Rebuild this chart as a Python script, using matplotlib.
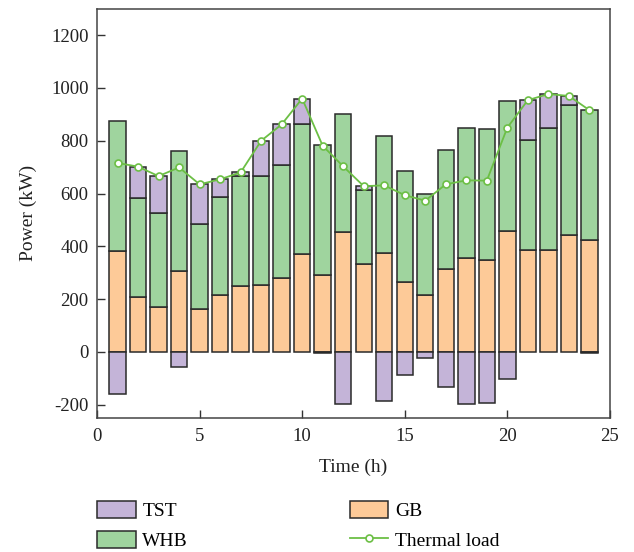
import matplotlib
matplotlib.use("Agg")
import matplotlib.pyplot as plt
import numpy as np

plt.rcParams['font.family'] = ['Liberation Serif', 'DejaVu Serif']
plt.rcParams['axes.unicode_minus'] = False

hours = list(range(1, 25))
gb = [381, 207, 170, 307, 164, 217, 249, 255, 281, 372, 291, 453,
      334, 375, 265, 217, 314, 356, 348, 459, 386, 385, 443, 425]
whb = [494, 375, 356, 454, 320, 371, 419, 410, 428, 493, 492, 449,
       279, 443, 420, 380, 452, 493, 495, 492, 416, 462, 492, 493]
tst = [-160, 119, 140, -58, 151, 66, 12, 135, 153, 95, -3, -198,
       15, -185, -88, -24, -132, -198, -194, -101, 152, 130, 35, -3]
thermal_load = [716, 702, 666, 699, 635, 654, 680, 800, 862, 960, 781, 703,
                628, 631, 594, 573, 635, 650, 649, 850, 954, 977, 970, 916]

c_tst = '#C4B4D8'
c_whb = '#9FD49E'
c_gb = '#FDCA98'
c_line = '#6CBF45'
edge = '#2a2a2a'

fig = plt.figure(figsize=(6.34, 5.52), dpi=100)
ax = fig.add_axes([0.153, 0.243, 0.809, 0.741])

x = np.array(hours)
gb_a = np.array(gb)
whb_a = np.array(whb)
tst_a = np.array(tst)
w = 0.8
kw = dict(width=w, edgecolor=edge, linewidth=1.1)

ax.bar(x, gb_a, color=c_gb, label='GB', **kw)
ax.bar(x, whb_a, bottom=gb_a, color=c_whb, label='WHB', **kw)
tst_bottom = np.where(tst_a > 0, gb_a + whb_a, 0)
ax.bar(x, tst_a, bottom=tst_bottom, color=c_tst, label='TST', **kw)

ax.plot(x, thermal_load, color=c_line, linewidth=1.3, marker='o',
        markersize=5, markerfacecolor='white', markeredgecolor=c_line,
        markeredgewidth=1.2, label='Thermal load', zorder=5)

ax.set_xlim(0, 25)
ax.set_ylim(-250, 1300)
ax.set_xticks([0, 5, 10, 15, 20, 25])
ax.set_yticks(np.arange(-200, 1201, 200))
ax.tick_params(direction='in', labelsize=13.5, length=6, width=1, colors='#333333',
               labelcolor='#222222')
ax.tick_params(axis='x', pad=7)
ax.tick_params(axis='y', pad=6)
for s in ax.spines.values():
    s.set_color('#444444')
    s.set_linewidth(1.1)

ax.set_xlabel('Time (h)', fontsize=14, color='#222222', labelpad=10)
ax.set_ylabel('Power (kW)', fontsize=14, color='#222222', labelpad=10)

h, l = ax.get_legend_handles_labels()
order = {lab: hh for hh, lab in zip(h, l)}
labels = ['TST', 'WHB', 'GB', 'Thermal load']
fig.legend([order[k] for k in labels], labels, ncol=2, loc='lower left',
           bbox_to_anchor=(0.125, -0.028), frameon=False, fontsize=14,
           handlelength=2.0, handleheight=0.95, columnspacing=8.3,
           labelspacing=0.55, handletextpad=0.35)

fig.savefig('out.png', dpi=100)
